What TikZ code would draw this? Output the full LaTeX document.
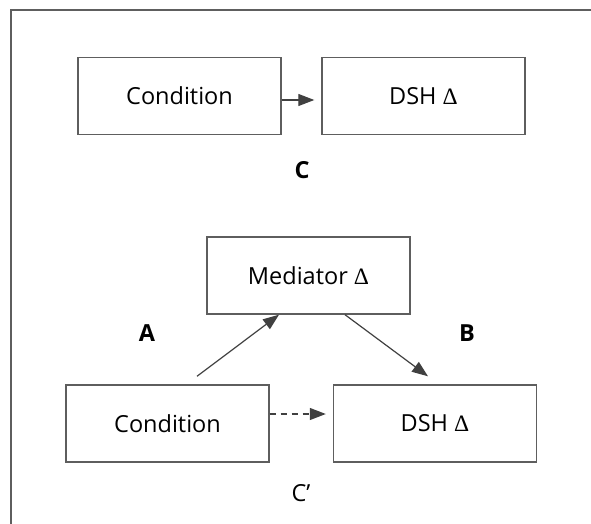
\documentclass[tikz,border=0pt]{standalone}
\usepackage{fontspec}
\setmainfont{Open Sans}
\newfontfamily\deltafont{Liberation Serif}
\usetikzlibrary{arrows.meta}
\definecolor{linegray}{HTML}{5E5E5E}
\definecolor{arrowgray}{HTML}{404040}
\begin{document}
\begin{tikzpicture}[x=1pt,y=-1pt,
  box/.style={draw=linegray, line width=1.4pt, minimum width=203pt, minimum height=77pt, inner sep=0pt, font=\fontsize{23.5}{28}\selectfont},
  conn/.style={draw=arrowgray, line width=1.2pt, -{Triangle[length=16pt,width=12pt]}},
  lbl/.style={font=\fontsize{23.5}{28}\selectfont\bfseries},
  plainlbl/.style={font=\fontsize{23.5}{28}\selectfont}]
\useasboundingbox (0,0) rectangle (591,524);
\draw[linegray, line width=1.4pt] (591,10) -- (11,10) -- (11,524);
% top
\node[box] (c1) at (179.5,96) {Condition};
\node[box] (d1) at (423.5,96) {DSH {\deltafont Δ}};
\draw[conn, shorten >=7pt] ([yshift=-4pt]c1.east) -- ([yshift=-4pt]d1.west);
\node[lbl] (lc) at (302,170) {C};
% bottom
\node[box] (m) at (308.5,275.5) {Mediator {\deltafont Δ}};
\node[box] (c2) at (167.5,423.5) {Condition};
\node[box] (d2) at (435,423.5) {DSH {\deltafont Δ}};
\coordinate (a0) at ([xshift=29.5pt,yshift=8pt]c2.north);
\coordinate (b1) at ([xshift=-7pt,yshift=8pt]d2.north);
\draw[conn] (a0) -- ([xshift=-29.5pt]m.south);
\draw[conn] ([xshift=36.5pt]m.south) -- (b1);
\draw[conn, dash pattern=on 6pt off 5pt, shorten >=7pt] ([yshift=9.5pt]c2.east) -- ([yshift=9.5pt]d2.west);
\node[lbl] (la) at (147,333) {A};
\node[lbl] (lb) at (467,333) {B};
\node[plainlbl] (lcp) at (301,493) {C’};
\end{tikzpicture}
\end{document}
